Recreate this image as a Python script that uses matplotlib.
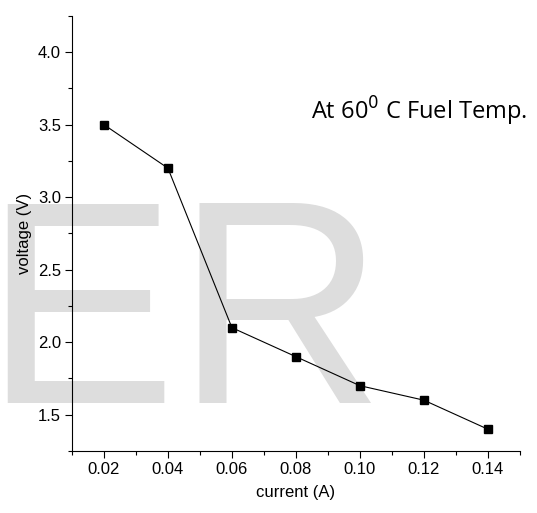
import matplotlib
matplotlib.use('Agg')
import matplotlib.pyplot as plt
from matplotlib.ticker import MultipleLocator

current = [0.02, 0.04, 0.06, 0.08, 0.10, 0.12, 0.14]
voltage = [3.5, 3.2, 2.1, 1.9, 1.7, 1.6, 1.4]
x_ticks = [0.02, 0.04, 0.06, 0.08, 0.10, 0.12, 0.14]
x_labels = ['0.02', '0.04', '0.06', '0.08', '0.10', '0.12', '0.14']
y_ticks = [1.5, 2.0, 2.5, 3.0, 3.5, 4.0]
y_labels = ['1.5', '2.0', '2.5', '3.0', '3.5', '4.0']

plt.rcParams['font.family'] = ['Liberation Sans', 'DejaVu Sans']

fig = plt.figure(figsize=(5.37, 5.13), dpi=100)

# watermark behind everything
fig.text(-0.032, 0.215, 'ER', fontsize=208, color='#dddddd', zorder=-5,
         ha='left', va='baseline')

ax = fig.add_axes([0.134, 0.121, 0.834, 0.848])
ax.set_facecolor('none')

ax.plot(current, voltage, color='black', linewidth=0.8,
        marker='s', markersize=5.5, markerfacecolor='black')

ax.set_xlim(0.01, 0.15)
ax.set_ylim(1.25, 4.25)
ax.set_xticks(x_ticks)
ax.set_xticklabels(x_labels)
ax.set_yticks(y_ticks)
ax.set_yticklabels(y_labels)
ax.xaxis.set_minor_locator(MultipleLocator(0.01))
ax.yaxis.set_minor_locator(MultipleLocator(0.25))

ax.spines['top'].set_visible(False)
ax.spines['right'].set_visible(False)
ax.tick_params(which='major', direction='out', length=5, width=0.8, labelsize=12, pad=3)
ax.tick_params(which='minor', direction='out', length=3, width=0.8)

ax.set_xlabel('current (A)', fontsize=12, labelpad=6)
ax.set_ylabel('voltage (V)', fontsize=12, labelpad=4)

ax.text(0.0848, 3.535, r'At 60$^0$ C Fuel Temp.', fontsize=17,
        family=['Open Sans', 'DejaVu Sans'], ha='left', va='baseline')

fig.savefig('out.png', dpi=100)
